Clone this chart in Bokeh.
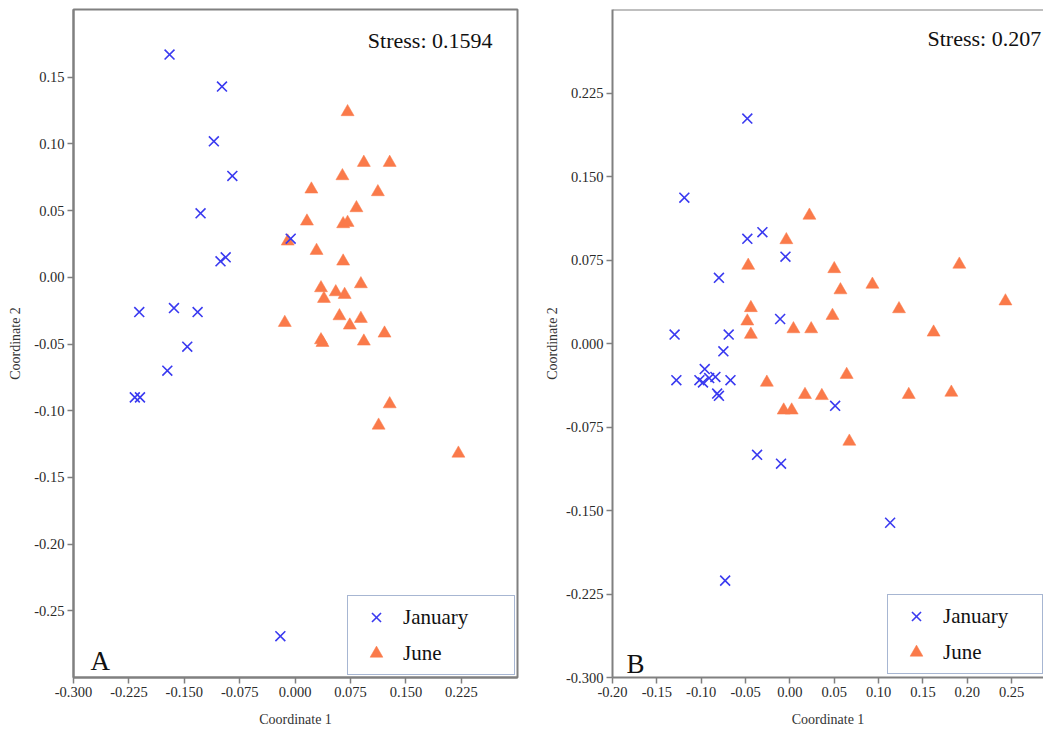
from bokeh.plotting import figure
from bokeh.layouts import row
from bokeh.models import (Range1d, FixedTicker, NumeralTickFormatter, Label,
                          Legend, LegendItem, Span)
from bokeh.embed import file_html
from bokeh.resources import INLINE

# ---------------- data ----------------
series_names = ["January", "June"]

A_jan_x = [-0.170, -0.099, -0.110, -0.085, -0.128, -0.101, -0.094, -0.006,
           -0.211, -0.164, -0.132, -0.146, -0.173, -0.217, -0.210, -0.020]
A_jan_y = [0.167, 0.143, 0.102, 0.076, 0.048, 0.012, 0.015, 0.029,
           -0.026, -0.023, -0.026, -0.052, -0.070, -0.090, -0.090, -0.269]

A_jun_x = [0.071, 0.093, 0.128, 0.064, 0.022, 0.112, 0.083, 0.016, 0.065, 0.071,
           -0.010, 0.029, 0.065, 0.089, 0.035, 0.055, 0.067, 0.039, -0.014, 0.060,
           0.089, 0.074, 0.121, 0.035, 0.037, 0.093, 0.128, 0.113, 0.221]
A_jun_y = [0.124, 0.086, 0.086, 0.076, 0.066, 0.064, 0.052, 0.042, 0.040, 0.041,
           0.027, 0.020, 0.012, -0.005, -0.008, -0.011, -0.013, -0.016, -0.034, -0.029,
           -0.031, -0.036, -0.042, -0.047, -0.049, -0.048, -0.095, -0.111, -0.132]

B_jan_x = [-0.048, -0.119, -0.048, -0.031, -0.005, -0.080, -0.011, -0.130,
           -0.069, -0.075, -0.128, -0.102, -0.096, -0.098, -0.091, -0.084,
           -0.067, -0.082, -0.080, 0.051, -0.037, -0.010, 0.113, -0.073]
B_jan_y = [0.202, 0.131, 0.094, 0.100, 0.078, 0.059, 0.022, 0.008,
           0.008, -0.007, -0.033, -0.033, -0.023, -0.035, -0.031, -0.030,
           -0.033, -0.045, -0.047, -0.056, -0.100, -0.108, -0.161, -0.213]

B_jun_x = [0.022, -0.004, -0.047, -0.044, -0.048, -0.044, 0.004, 0.024, 0.050,
           0.191, 0.093, 0.057, 0.243, 0.123, 0.048, 0.162, 0.064, 0.017, 0.036,
           0.134, 0.182, 0.067, -0.026, -0.007, 0.002]
B_jun_y = [0.115, 0.093, 0.070, 0.032, 0.020, 0.008, 0.013, 0.013, 0.067,
           0.071, 0.053, 0.048, 0.038, 0.031, 0.025, 0.010, -0.028, -0.046, -0.047,
           -0.046, -0.044, -0.088, -0.035, -0.060, -0.060]

A_xticks = [-0.300, -0.225, -0.150, -0.075, 0.000, 0.075, 0.150, 0.225]
A_yticks = [-0.25, -0.20, -0.15, -0.10, -0.05, 0.00, 0.05, 0.10, 0.15]
B_xticks = [-0.20, -0.15, -0.10, -0.05, 0.00, 0.05, 0.10, 0.15, 0.20, 0.25]
B_yticks = [-0.300, -0.225, -0.150, -0.075, 0.000, 0.075, 0.150, 0.225]

stress_A = "Stress: 0.1594"
stress_B = "Stress: 0.207"
panel_A = "A"
panel_B = "B"

# ---------------- style ----------------
FONT = "Liberation Serif"
BLUE = "#3a3af0"
ORANGE = "#fa7a4a"
FRAME = "#808080"
LEG_BORDER = "#4f6ea6"


def style_axes(p, xticks, yticks, xfmt, yfmt, y_label_standoff):
    p.xgrid.visible = False
    p.ygrid.visible = False
    p.xaxis.ticker = FixedTicker(ticks=xticks)
    p.yaxis.ticker = FixedTicker(ticks=yticks)
    p.xaxis.formatter = NumeralTickFormatter(format=xfmt)
    p.yaxis.formatter = NumeralTickFormatter(format=yfmt)
    for ax in (p.xaxis, p.yaxis):
        ax.axis_line_color = FRAME
        ax.axis_line_width = 2
        ax.major_tick_line_color = FRAME
        ax.major_tick_line_width = 1.5
        ax.major_tick_out = 6
        ax.major_tick_in = 0
        ax.minor_tick_line_color = None
        ax.major_label_text_font = FONT
        ax.major_label_text_font_size = "14.5px"
        ax.major_label_text_color = "#2a2a2a"
        ax.axis_label_text_font = FONT
        ax.axis_label_text_font_size = "14px"
        ax.axis_label_text_font_style = "normal"
        ax.axis_label_text_color = "#333333"
    p.xaxis.major_label_standoff = 3
    p.yaxis.major_label_standoff = 3
    p.xaxis.axis_label_standoff = 12
    p.yaxis.axis_label_standoff = y_label_standoff
    p.xaxis.axis_label = "Coordinate 1"
    p.yaxis.axis_label = "Coordinate 2"


def make_panel(width, border_left, border_right, xr, yr, jan_x, jan_y, jun_x, jun_y):
    p = figure(width=width, height=729, output_backend="svg", toolbar_location=None,
               x_range=Range1d(*xr), y_range=Range1d(*yr),
               min_border_left=border_left, min_border_right=border_right,
               min_border_top=9, min_border_bottom=52)
    p.background_fill_color = "white"
    p.border_fill_color = "white"
    p.outline_line_color = FRAME
    p.outline_line_width = 2
    r_jun = p.scatter(jun_x, jun_y, marker="triangle", size=13, fill_color=ORANGE,
                      line_color=ORANGE, line_width=0.5)
    r_jan = p.scatter(jan_x, jan_y, marker="x", size=14, line_color=BLUE,
                      line_width=1.6)
    return p, r_jan, r_jun


def add_legend(p, r_jan, r_jun, vx, vy, label_width):
    leg = Legend(items=[LegendItem(label=series_names[0], renderers=[r_jan]),
                        LegendItem(label=series_names[1], renderers=[r_jun])],
                 location=(vx, vy),
                 label_text_font=FONT, label_text_font_size="21px",
                 label_text_color="#111111",
                 glyph_width=46, glyph_height=32, label_standoff=4,
                 label_width=label_width, label_height=32,
                 padding=5, spacing=4, margin=0,
                 border_line_color=LEG_BORDER, border_line_width=1.5,
                 background_fill_color="white", background_fill_alpha=1.0)
    p.add_layout(leg, "center")


# ---------------- panel A ----------------
pA, ajan, ajun = make_panel(540, 73, 23, (-0.300, 0.301), (-0.300, 0.2008),
                            A_jan_x, A_jan_y, A_jun_x, A_jun_y)
style_axes(pA, A_xticks, A_yticks, "0.000", "0.00", 8)
add_legend(pA, ajan, ajun, 274, 2, 106)
pA.add_layout(Label(x=419, y=637, x_units="screen", y_units="screen", text=stress_A,
                    text_font=FONT, text_font_size="22px", text_align="right",
                    text_baseline="middle", text_color="#111111"))
pA.add_layout(Label(x=17, y=17, x_units="screen", y_units="screen", text=panel_A,
                    text_font=FONT, text_font_size="27px", text_align="left",
                    text_baseline="alphabetic", text_color="#111111"))

# ---------------- panel B ----------------
pB, bjan, bjun = make_panel(503, 72, 0, (-0.200, -0.2 + 431 / 887), (-0.300, 0.300),
                            B_jan_x, B_jan_y, B_jun_x, B_jun_y)
style_axes(pB, B_xticks, B_yticks, "0.00", "0.000", 3)
pB.outline_line_color = None
pB.add_layout(Span(location=0.300, dimension="width", line_color=FRAME, line_width=2))
add_legend(pB, bjan, bjun, 275, 3, 94)
pB.add_layout(Label(x=315, y=639, x_units="screen", y_units="screen", text=stress_B,
                    text_font=FONT, text_font_size="22px", text_align="left",
                    text_baseline="middle", text_color="#111111"))
pB.add_layout(Label(x=14, y=14, x_units="screen", y_units="screen", text=panel_B,
                    text_font=FONT, text_font_size="27px", text_align="left",
                    text_baseline="alphabetic", text_color="#111111"))

layout = row(pA, pB, spacing=0)
open("out.html", "w").write(file_html(layout, INLINE))
